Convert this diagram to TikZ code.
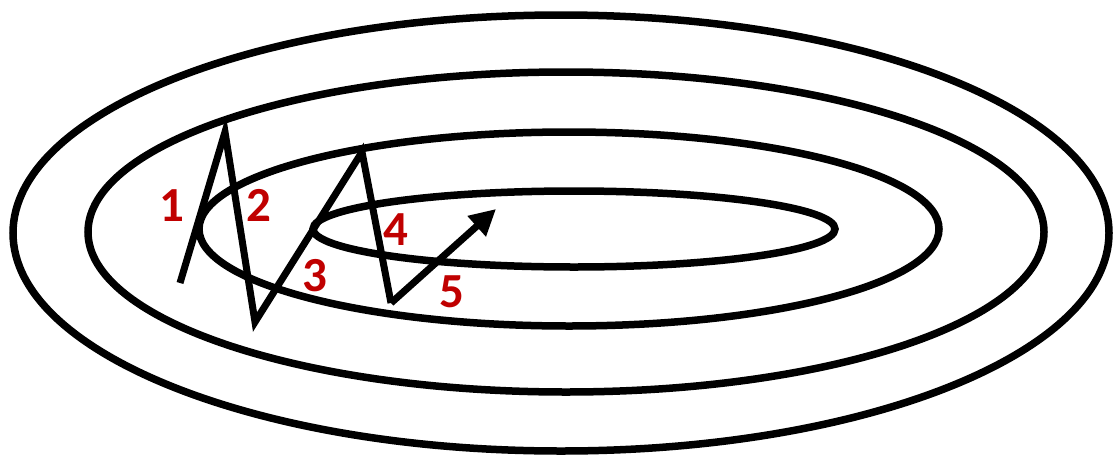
\documentclass[tikz,border=0pt]{standalone}
\usepackage{fontspec}
\setmainfont{Carlito}
\usetikzlibrary{arrows.meta}
\definecolor{numred}{HTML}{C00000}
\tikzset{
  contour/.style={draw=black, line width=7.5pt},
  pathline/.style={draw=black, line width=7pt, line join=miter, line cap=butt},
  numlabel/.style={text=numred, font=\bfseries\fontsize{49}{49}\selectfont, inner sep=0pt}
}
\begin{document}
\begin{tikzpicture}[x=1pt,y=-1pt]
\useasboundingbox (0,0) rectangle (1113,458);
% contours
\draw[contour] (561,233) ellipse [x radius=548, y radius=218];
\draw[contour] (566,232) ellipse [x radius=478, y radius=160];
\draw[contour] (569,229) ellipse [x radius=370, y radius=97];
\draw[contour] (574,229) ellipse [x radius=261, y radius=38];
% zigzag path
\coordinate (p0) at (180,283);
\coordinate (p1) at (225,132);
\coordinate (p2) at (255,322);
\coordinate (p3) at (362,152);
\coordinate (p4) at (391,303);
\coordinate (p5) at (496,209);
\draw[pathline] (p0) -- (p1) -- (p2) -- (p3) -- (p4);
\draw[pathline, -{Triangle[length=26pt, width=26pt]}] (p4) -- (p5);
% labels
\node[numlabel] (n1) at (172,206) {1};
\node[numlabel] (n2) at (259,205) {2};
\node[numlabel] (n3) at (315,276) {3};
\node[numlabel] (n4) at (396,230) {4};
\node[numlabel] (n5) at (452,292) {5};
\end{tikzpicture}
\end{document}
